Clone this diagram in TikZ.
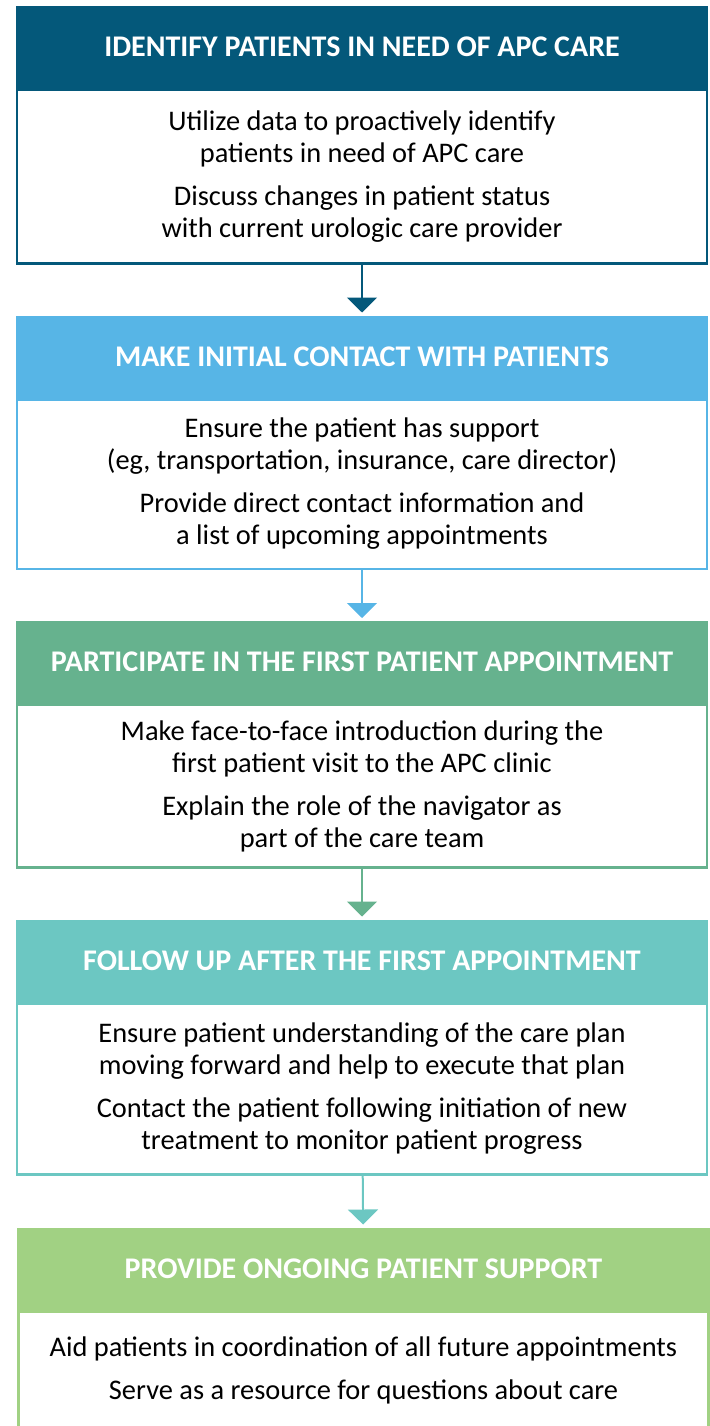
\documentclass[tikz,border=0pt]{standalone}
\usepackage{fontspec}
\setmainfont{Carlito}
\usetikzlibrary{positioning,arrows.meta}
\definecolor{stepA}{RGB}{4,88,122}
\definecolor{stepB}{RGB}{87,181,230}
\definecolor{stepC}{RGB}{102,178,142}
\definecolor{stepD}{RGB}{108,199,194}
\definecolor{stepE}{RGB}{161,209,131}
\begin{document}
\begin{tikzpicture}[
  head/.style={fill=#1, draw=#1, line width=2.5pt, minimum width=690pt, minimum height=80pt, inner sep=0pt, text=white, font=\fontsize{30}{34}\selectfont\bfseries},
  body/.style={fill=white, draw=#1, line width=2.5pt, minimum width=690pt, inner sep=0pt, align=center, font=\fontsize{28.4}{32}\selectfont},
  link/.style={draw=#1, line width=2pt, shorten >=3pt, -{Triangle[width=30pt,length=15pt]}}
]
\useasboundingbox (0pt,0pt) rectangle (709pt,-1426pt);
\node[head=stepA, anchor=north] (head1) at (362pt,-6pt) {IDENTIFY PATIENTS IN NEED OF APC CARE};
\node[body=stepA, minimum height=173.5pt, below=0pt of head1] (body1) {Utilize data to proactively identify\\patients in need of APC care\\[11pt]Discuss changes in patient status\\with current urologic care provider};
\node[head=stepB, below=51pt of body1] (head2) {MAKE INITIAL CONTACT WITH PATIENTS};
\node[body=stepB, minimum height=169.5pt, below=0pt of head2] (body2) {Ensure the patient has support\\(eg, transportation, insurance, care director)\\[11pt]Provide direct contact information and\\a list of upcoming appointments};
\node[head=stepC, below=51pt of body2] (head3) {PARTICIPATE IN THE FIRST PATIENT APPOINTMENT};
\node[body=stepC, minimum height=162.5pt, below=0pt of head3] (body3) {Make face-to-face introduction during the\\first patient visit to the APC clinic\\[11pt]Explain the role of the navigator as\\part of the care team};
\node[head=stepD, below=51pt of body3] (head4) {FOLLOW UP AFTER THE FIRST APPOINTMENT};
\node[body=stepD, minimum height=171pt, below=0pt of head4] (body4) {Ensure patient understanding of the care plan\\moving forward and help to execute that plan\\[11pt]Contact the patient following initiation of new\\treatment to monitor patient progress};
\node[head=stepE, below=52pt of body4, xshift=1.5pt] (head5) {PROVIDE ONGOING PATIENT SUPPORT};
\node[body=stepE, inner ysep=26pt, text depth=150pt, below=0pt of head5] (body5) {Aid patients in coordination of all future appointments\\[11pt]Serve as a resource for questions about care};
\draw[link=stepA] (body1) -- (head2);
\draw[link=stepB] (body2) -- (head3);
\draw[link=stepC] (body3) -- (head4);
\draw[link=stepD] (body4) -- (head5);
\end{tikzpicture}
\end{document}
